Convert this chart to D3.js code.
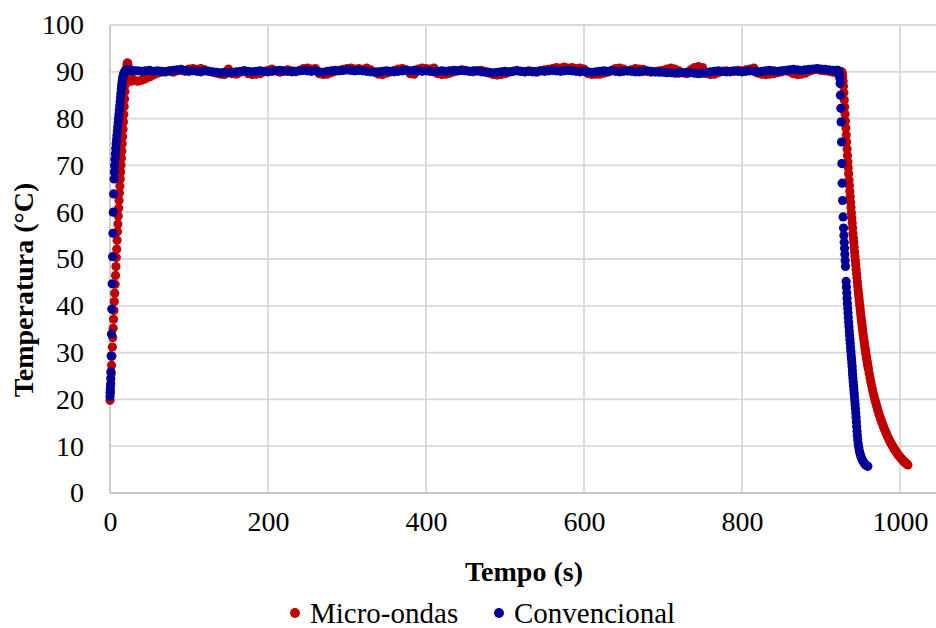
<!DOCTYPE html>
<html><head><meta charset="utf-8">
<script src="https://cdn.jsdelivr.net/npm/d3@7"></script>
<style>body{margin:0;background:#fff}svg{display:block}</style>
</head><body>
<svg id="c" width="936" height="628"></svg>
<script>
// ---------------- DATA ----------------
const seriesNames = ["Micro-ondas", "Convencional"];
const seriesColors = ["#c00000", "#000096"];
const xTicks = [0, 200, 400, 600, 800, 1000];
const yTicks = [0, 10, 20, 30, 40, 50, 60, 70, 80, 90, 100];
const xTitle = "Tempo (s)";
const yTitle = "Temperatura (°C)";

// Micro-ondas: heating ramp (time s, temperature °C)
const redRiseT = [0,0.5,1,1.5,2,2.5,3,3.5,4,4.5,5,5.5,6,6.5,7,7.5,8,8.5,9,9.5,10,10.5,11,11.5,12,12.5,13,13.5,14,14.5,15,15.5,16,16.5,17,17.5,18,18.5,19,19.5,20,20.5,21,21.5,22,22.5,23,23.5,24,24.5,25,26,27,28,29];
const redRiseY = [19.8,21.5,23.5,25.5,27.3,29.2,31.2,33.2,35.2,37.1,39.0,40.9,42.7,44.6,46.5,48.4,50.3,52.1,54.0,55.8,57.5,59.2,60.9,62.5,64.1,65.6,67.1,68.6,70.1,71.6,73.1,74.6,76.1,77.7,79.3,80.9,82.6,84.2,85.8,87.3,88.6,89.8,90.8,91.5,91.9,91.8,91.2,90.2,89.3,88.7,88.3,88.1,88.0,88.2,88.4];
// Micro-ondas: holding plateau, sampled every 5 s from t = 30 s to 925 s
const redPlateauStart = 30, redPlateauStep = 5;
const redPlateauY = [
  88.2,88.0,88.2,88.5,88.9,89.3,89.7,89.9,90.0,90.1,
  89.9,90.2,90.3,90.1,90.6,90.7,90.5,90.7,90.4,90.1,
  89.9,89.7,89.5,89.4,90.6,89.6,89.5,89.9,90.2,89.6,
  89.4,89.5,89.6,90.0,90.3,90.6,90.2,89.9,90.1,90.4,
  90.2,90.0,90.3,90.7,90.8,90.6,90.7,89.6,89.4,89.5,
  89.8,90.1,90.3,90.5,90.7,90.8,90.6,90.7,90.5,90.8,
  90.4,90.0,89.5,89.4,89.7,90.0,90.3,90.6,90.7,90.4,
  89.6,89.5,90.6,90.8,90.7,90.6,90.8,89.6,89.4,89.5,
  89.7,90.0,90.2,90.4,90.3,90.1,90.0,90.2,90.3,90.1,
  89.7,89.4,89.3,89.4,89.6,89.9,90.1,90.3,90.1,90.0,
  90.2,90.1,89.9,90.2,90.4,90.5,90.7,90.9,90.8,91.0,
  90.8,90.9,90.7,90.8,90.6,89.6,89.4,89.5,89.5,89.7,
  89.9,90.3,90.7,90.8,90.6,90.2,90.4,90.7,90.6,90.5,
  90.1,89.9,90.0,90.2,90.3,90.6,90.8,90.6,90.2,89.8,
  89.6,90.4,90.9,91.1,90.9,89.6,89.4,89.5,89.8,90.1,
  90.2,90.0,90.1,90.3,90.2,90.4,90.6,90.8,89.7,89.5,
  89.4,89.5,89.6,89.8,90.0,90.2,90.0,89.6,89.4,89.5,
  89.7,90.1,90.4,90.5,90.3,90.2,90.1,89.9,89.7,90.0
];
// Micro-ondas: cooling, every 0.5 s from 926 s, then every 1 s from 960 s
const redFallFastStart = 926, redFallFastStep = 0.5;
const redFallFastY = [90.0,89.9,89.5,88.9,88.0,86.9,85.5,84.0,82.5,81.0,79.5,78.0,76.5,75.0,73.5,72.1,70.8,69.5,68.2,66.9,65.7,64.5,63.3,62.1,61.0,59.9,58.8,57.7,56.6,55.5,54.5,53.5,52.5,51.5,50.6,49.6,48.7,47.8,46.9,46.0,45.1,44.2,43.4,42.6,41.8,41.0,40.2,39.4,38.7,37.9,37.2,36.5,35.8,35.1,34.4,33.7,33.1,32.5,31.9,31.3,30.7,30.1,29.6,29.0,28.5,28.0,27.5,27.0];
const redFallSlowStart = 960, redFallSlowStep = 1;
const redFallSlowY = [26.5,25.6,24.7,23.8,23.0,22.2,21.5,20.8,20.1,19.5,18.9,18.3,17.7,17.1,16.6,16.1,15.6,15.1,14.7,14.2,13.8,13.4,13.0,12.6,12.2,11.8,11.5,11.1,10.8,10.5,10.2,9.9,9.6,9.3,9.1,8.8,8.6,8.3,8.1,7.9,7.7,7.5,7.3,7.1,6.9,6.7,6.6,6.4,6.3,6.1,6.0];

// Convencional: heating ramp
const blueRiseT = [0,0.2,0.4,0.7,1.0,1.2,1.5,1.9,2.3,2.8,3.3,3.7,4.1,4.6,5.1,5.5,5.9,6.3,6.8,7.3,7.8,8.3,8.8,9.3,9.8,10.3,10.8,11.3,11.8,12.3,12.8,13.3,13.8,14.3,14.8,15.3,15.8,16.3,16.9,17.6,18.4,19.3,20.3,21.4,22.6,24,25.5,27,28.5];
const blueRiseY = [20.6,21.4,22.2,23.1,24.5,25.9,29.3,34.0,39.3,44.7,50.5,55.5,60.0,63.9,67.1,68.6,70.0,71.3,72.5,73.6,74.6,75.5,76.4,77.3,78.2,79.1,80.0,80.9,81.8,82.7,83.6,84.5,85.4,86.3,87.1,87.8,88.4,88.9,89.3,89.7,90.0,90.2,90.3,90.4,90.4,90.4,90.3,90.3,90.2];
// Convencional: holding plateau, every 5 s from t = 30 s to 915 s
const bluePlateauStart = 30, bluePlateauStep = 5;
const bluePlateauY = [
  90.2,90.2,90.1,90.2,90.3,90.1,90.2,90.1,90.0,90.2,
  90.3,90.4,90.5,90.3,90.1,90.2,90.1,90.0,90.2,90.1,
  90.0,89.9,89.8,89.9,89.8,89.9,90.0,90.1,90.2,90.1,
  90.0,90.1,90.2,90.1,90.0,90.1,90.2,90.3,90.2,90.1,
  90.0,90.1,90.2,90.3,90.2,90.1,90.2,90.0,89.9,90.1,
  90.2,90.3,90.2,90.3,90.4,90.3,90.2,90.3,90.2,90.1,
  90.0,89.9,90.0,90.1,90.2,90.1,90.0,90.1,90.2,90.3,
  90.2,90.3,90.2,90.1,90.2,90.1,90.0,90.1,90.2,90.1,
  90.2,90.3,90.2,90.3,90.2,90.1,90.2,90.2,90.0,89.9,
  89.9,89.8,89.9,90.0,90.1,90.0,90.1,90.2,90.1,90.0,
  90.1,90.0,90.1,90.2,90.1,90.2,90.3,90.2,90.1,90.2,
  90.3,90.2,90.1,90.0,90.1,90.0,89.9,90.0,90.1,90.2,
  90.1,90.2,90.1,90.0,90.1,90.2,90.1,90.0,90.0,90.1,
  90.2,90.1,90.0,89.9,89.9,89.8,89.8,89.7,89.7,89.8,
  89.9,89.8,89.7,89.6,89.7,89.8,90.0,90.1,90.2,90.1,
  90.0,90.1,90.2,90.1,90.0,90.1,90.2,90.1,90.0,90.1,
  90.2,90.3,90.2,90.1,90.2,90.3,90.4,90.5,90.4,90.3,
  90.4,90.5,90.6,90.7,90.6,90.5,90.4,90.3
];
// Convencional: cooling
const blueFallT = [920.0,921.0,921.8,922.5,923.1,923.7,924.2,924.6,925.1,925.5,926.0,926.4,926.8,927.3,928.0,928.5,929.0,929.4,929.8,930.2,930.6,931.0,931.8,932.2,932.6,933.0,933.4,933.8,934.2,934.6,935.0,935.4,935.8,936.2,936.6,937.0,937.4,937.8,938.2,938.6,939.0,939.4,939.7,940.0,940.4,940.8,941.2,941.6,942.0,942.4,942.8,943.2,943.6,944.0,944.4,944.8,945.2,945.6,946.0,946.5,947.1,947.8,948.6,949.5,950.5,951.6,952.8,954.1,955.4,956.7,958.0,959.3];
const blueFallY = [90.3,90.3,90.2,90.0,89.5,88.7,87.5,85.0,82.2,79.3,75.0,70.4,66.2,62.5,59.0,56.6,55.0,53.6,52.3,51.0,49.7,48.4,45.2,44.0,42.8,41.6,40.5,39.5,38.5,37.5,36.5,35.5,34.6,33.7,32.8,32.0,31.1,30.3,29.5,28.7,27.9,27.1,26.2,25.3,24.5,23.7,22.9,22.1,21.3,20.5,19.7,18.9,18.0,17.1,16.2,15.2,14.2,13.2,12.3,11.4,10.5,9.7,9.0,8.4,7.8,7.3,6.9,6.5,6.2,6.0,5.8,5.7];

// ---------------- BUILD SERIES ----------------
const pairs = (ts, ys) => ys.map((v, i) => ({t: ts[i], v}));
const grid = (start, step, ys) => ys.map((v, i) => ({t: start + i * step, v}));
const redData = [].concat(
  pairs(redRiseT, redRiseY),
  grid(redPlateauStart, redPlateauStep, redPlateauY),
  grid(redFallFastStart, redFallFastStep, redFallFastY),
  grid(redFallSlowStart, redFallSlowStep, redFallSlowY)
);
const blueData = [].concat(
  pairs(blueRiseT, blueRiseY),
  grid(bluePlateauStart, bluePlateauStep, bluePlateauY),
  pairs(blueFallT, blueFallY)
);
const allSeries = [redData, blueData];

// ---------------- DRAW ----------------
const W = 936, H = 628;
const M = {left: 110, top: 25, bottom: 493, right: 939.5};
const FONT = "'Liberation Serif','Times New Roman',Times,serif";
const svg = d3.select("#c");
const x = d3.scaleLinear().domain([0, 1050]).range([M.left, M.right]);
const y = d3.scaleLinear().domain([0, 100]).range([M.bottom, M.top]);

// gridlines
const gridG = svg.append("g");
gridG.selectAll("line.h").data(yTicks.filter(d => d > 0)).join("line")
  .attr("x1", M.left).attr("x2", W).attr("y1", d => y(d)).attr("y2", d => y(d))
  .attr("stroke", "#d9d9d9").attr("stroke-width", 1.8);
gridG.selectAll("line.v").data(xTicks.filter(d => d > 0)).join("line")
  .attr("y1", M.top).attr("y2", M.bottom).attr("x1", d => x(d)).attr("x2", d => x(d))
  .attr("stroke", "#d9d9d9").attr("stroke-width", 1.8);
// axis lines
svg.append("line").attr("x1", M.left).attr("x2", M.left).attr("y1", M.top).attr("y2", M.bottom)
  .attr("stroke", "#c8c8c8").attr("stroke-width", 1.8);
svg.append("line").attr("x1", M.left).attr("x2", W).attr("y1", M.bottom).attr("y2", M.bottom)
  .attr("stroke", "#c8c8c8").attr("stroke-width", 1.8);

// axes (labels only)
const xAxis = svg.append("g").attr("transform", `translate(0,${M.bottom})`)
  .call(d3.axisBottom(x).tickValues(xTicks).tickSize(0).tickPadding(18).tickFormat(d3.format("d")));
const yAxis = svg.append("g").attr("transform", `translate(${M.left},0)`)
  .call(d3.axisLeft(y).tickValues(yTicks).tickSize(0).tickPadding(26).tickFormat(d3.format("d")));
[xAxis, yAxis].forEach(g => {
  g.select(".domain").remove();
  g.selectAll("text").attr("font-family", FONT).attr("font-size", 28).attr("fill", "#000");
});

// points
allSeries.forEach((data, si) => {
  svg.append("g").selectAll("circle").data(data).join("circle")
    .attr("cx", d => x(d.t)).attr("cy", d => y(d.v)).attr("r", 4.6)
    .attr("fill", seriesColors[si]);
});

// titles
svg.append("text").attr("x", 524).attr("y", 581).attr("text-anchor", "middle")
  .attr("font-family", FONT).attr("font-size", 28).attr("font-weight", "bold").text(xTitle);
svg.append("text").attr("transform", "translate(33,290) rotate(-90)").attr("text-anchor", "middle")
  .attr("font-family", FONT).attr("font-size", 28).attr("font-weight", "bold").text(yTitle);

// legend
const legX = [295, 499];
seriesNames.forEach((name, i) => {
  const g = svg.append("g");
  g.append("circle").attr("cx", legX[i]).attr("cy", 613).attr("r", 5).attr("fill", seriesColors[i]);
  g.append("text").attr("x", legX[i] + 15).attr("y", 623).attr("font-family", FONT)
    .attr("font-size", 29).attr("fill", "#000").text(name);
});
</script>
</body></html>
